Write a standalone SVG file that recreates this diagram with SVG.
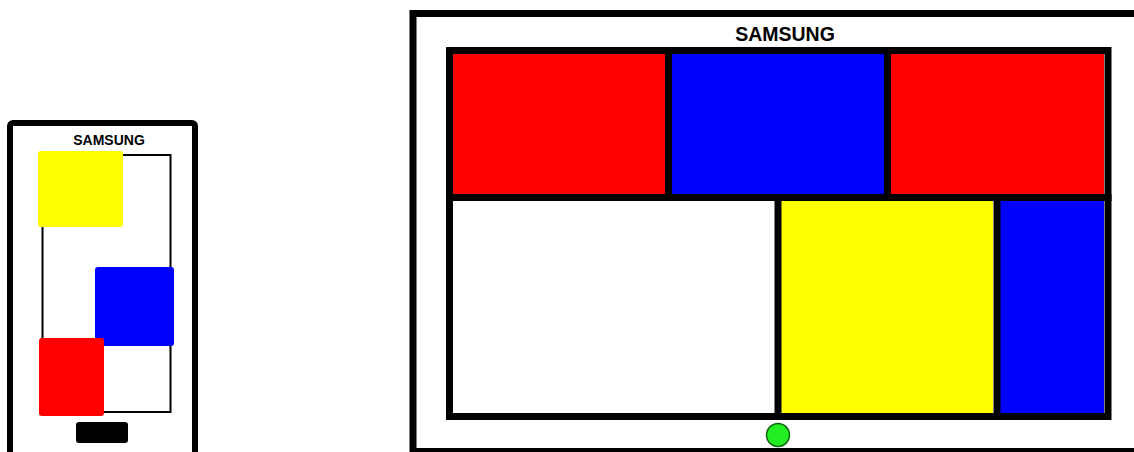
<svg xmlns="http://www.w3.org/2000/svg" width="1134" height="452" viewBox="0 0 1134 452">
<style>
.frame{fill:#fff;stroke:#000;}
.grid{stroke:#000;stroke-width:7;fill:none;stroke-linecap:square;}
.red{fill:#ff0000;}
.blue{fill:#0000ff;}
.yellow{fill:#ffff00;}
.lbl{font-family:"Liberation Sans",Arial,sans-serif;fill:#000;text-anchor:middle;font-weight:bold;}
</style>
<rect width="1134" height="452" fill="#fff"/>
<g id="phone">
<rect class="frame" x="10" y="123" width="185" height="340" rx="3" stroke-width="6"/>
<text class="lbl" x="109" y="145" font-size="14">SAMSUNG</text>
<rect x="42.5" y="155" width="128" height="257" fill="none" stroke="#000" stroke-width="2"/>
<rect class="yellow" x="38" y="151" width="85" height="76" rx="3"/>
<rect class="blue" x="95" y="267" width="79" height="79" rx="3"/>
<rect class="red" x="39" y="338" width="65" height="78" rx="3"/>
<rect x="76" y="422" width="52" height="21" rx="3" fill="#000"/>
</g>
<g id="tv">
<rect class="frame" x="413" y="13.5" width="730" height="438" stroke-width="7"/>
<text class="lbl" x="785" y="40.5" font-size="19.5">SAMSUNG</text>
<rect class="red" x="453" y="54" width="212" height="140"/>
<rect class="blue" x="672" y="54" width="212" height="140"/>
<rect class="red" x="891" y="54" width="213" height="140"/>
<rect class="yellow" x="781" y="201" width="212" height="212"/>
<rect class="blue" x="1000" y="201" width="104" height="212"/>
<rect class="grid" x="449.5" y="50.5" width="658.5" height="366"/>
<path class="grid" d="M449.5 197.5H1108M668.5 50.5V197.5M887.5 50.5V197.5M778 197.5V416.5M997 197.5V416.5"/>
<circle cx="778" cy="435" r="11.5" fill="#22ee22" stroke="#116611" stroke-width="1.5"/>
</g>
</svg>
